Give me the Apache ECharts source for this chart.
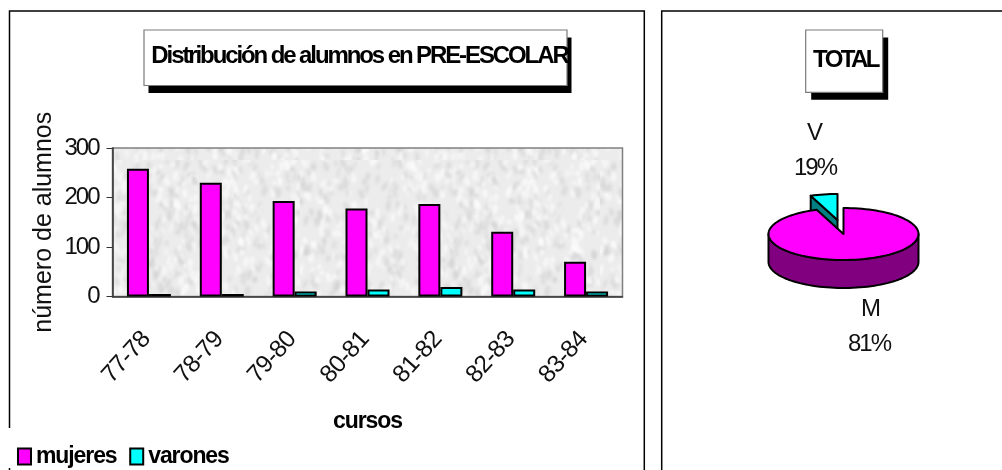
<!DOCTYPE html>
<html>
<head>
<meta charset="utf-8">
<style>html,body{margin:0;padding:0;background:#fff}#c{width:1002px;height:470px}</style>
<script src="https://cdn.jsdelivr.net/npm/echarts@6/dist/echarts.min.js"></script>
</head>
<body>
<div id="c"></div>
<script>
const categories = ['77-78','78-79','79-80','80-81','81-82','82-83','83-84'];
const mujeres = [258,230,193,178,187,131,70];
const varones = [5,5,10,14,19,14,10];
const yTicks = [0,100,200,300];
const pieNames = ['M','V'];
const pieValues = [1247,77];
const piePercentLabels = ['81%','19%'];

const FONT = '"Liberation Sans", Arial, sans-serif';

// Tight glyph spacing of the original, applied per text style
const plainFill = CanvasRenderingContext2D.prototype.fillText;
CanvasRenderingContext2D.prototype.fillText = function (t, x, y, m) {
  const f = this.font; let s = 0;
  if (t === 'TOTAL') s = -2.6;
  else if (/bold|700/.test(f) && /24px/.test(f)) s = -2.1;
  else if (/bold|700/.test(f)) s = -1.1;
  else if (/24px/.test(f)) s = -2;
  else if (/24\.5px/.test(f)) s = -0.7;
  this.letterSpacing = s + 'px';
  if (m === undefined) plainFill.call(this, t, x, y); else plainFill.call(this, t, x, y, m);
  this.letterSpacing = '0px';
};

const chart = echarts.init(document.getElementById('c'), null, {renderer:'canvas'});

// Paper texture for the plot background (decoration only)
function texture() {
  const W = 300, H = 160, cv = document.createElement('canvas');
  cv.width = W; cv.height = H;
  const g = cv.getContext('2d');
  g.fillStyle = '#ececec'; g.fillRect(0,0,W,H);
  const h = (a,b) => { const v = Math.sin(a*12.9898+b*78.233)*43758.5453; return v-Math.floor(v); };
  g.filter = 'blur(1.4px)';
  for (let i=0;i<900;i++){
    const x=h(i,1)*W, y=h(i,2)*H, shade=h(i,3);
    g.fillStyle = shade<0.45 ? 'rgba(208,208,208,0.6)' : 'rgba(252,252,252,0.7)';
    g.beginPath();
    g.ellipse(x,y,1+h(i,4)*2,2+h(i,5)*4,(h(i,6)-0.5)*0.9,0,Math.PI*2);
    g.fill();
  }
  return cv;
}

// Pie layout
const PC = {cx:843.5, cy:234, rx:75, ry:26, depth:28, explodeX:-6, explodeY:-14};
const pieTotal = pieValues.reduce((a,b)=>a+b,0);
const pieColors = [
  {top:'#ff00ff', side:'#800080'},
  {top:'#00ffff', side:'#008080'}
];
function rim(th, ox, oy){ return [PC.cx+ox+PC.rx*Math.sin(th), PC.cy+oy-PC.ry*Math.cos(th)]; }
function arcPts(a,b,ox,oy){
  const pts=[], n=Math.max(2,Math.ceil((b-a)/0.05));
  for(let i=0;i<=n;i++) pts.push(rim(a+(b-a)*i/n,ox,oy));
  return pts;
}
function renderPie(params, api){
  const i = params.dataIndex;
  let start = 0;
  for(let k=0;k<i;k++) start += pieValues[k];
  const a0 = start/pieTotal*Math.PI*2;
  const a1 = (start+api.value(0))/pieTotal*Math.PI*2;
  const exploded = i===1;
  const ox = exploded?PC.explodeX:0, oy = exploded?PC.explodeY:0;
  const apex=[PC.cx+ox,PC.cy+oy];
  const stroke={stroke:'#000',lineWidth:2,lineJoin:'round'};
  const kids=[];
  const s0=Math.max(a0,Math.PI/2), s1=Math.min(a1,Math.PI*1.5);
  if(s1>s0){
    const f=arcPts(s0,s1,ox,oy);
    const b=f.slice().reverse().map(p=>[p[0],p[1]+PC.depth]);
    kids.push({type:'polygon',shape:{points:f.concat(b)},style:{fill:pieColors[i].side,...stroke}});
  }
  if(exploded){
    const p=rim(a0,ox,oy);
    kids.push({type:'polygon',shape:{points:[apex,p,[p[0],p[1]+PC.depth],[apex[0],apex[1]+PC.depth]]},
      style:{fill:pieColors[i].side,...stroke}});
  }
  kids.push({type:'polygon',shape:{points:[apex].concat(arcPts(a0,a1,ox,oy))},style:{fill:pieColors[i].top,...stroke}});
  kids.forEach(k=>{k.z2=exploded?1:2;});
  return {type:'group',children:kids};
}

function panelLine(pts){ return {type:'polyline',shape:{points:pts},style:{stroke:'#000',lineWidth:1.5,fill:null},silent:true}; }
function box(x,y,w,h,sx,sy){
  return [
    {type:'rect',shape:{x:x+sx,y:y+sy,width:w,height:h},style:{fill:'#000'},silent:true},
    {type:'rect',shape:{x:x,y:y,width:w,height:h},style:{fill:'#fff',stroke:'#7a7a7a',lineWidth:1.2},silent:true}
  ];
}
function pieText(t,x,y){ return {type:'text',style:{text:t,x:x,y:y,fill:'#111',font:'24px '+FONT,textAlign:'center',textVerticalAlign:'middle'},silent:true,z:5}; }

chart.setOption({
  animation:false,
  backgroundColor:'#fff',
  title:[
    {text:'Distribución de alumnos en PRE-ESCOLAR',left:359.5,top:44,textAlign:'center',padding:0,
      textStyle:{fontFamily:FONT,fontSize:24,fontWeight:'bold',color:'#000'}},
    {text:'TOTAL',left:845.5,top:48,textAlign:'center',padding:0,
      textStyle:{fontFamily:FONT,fontSize:24,fontWeight:'bold',color:'#000'}}
  ],
  grid:{left:112.5,top:148,width:510,height:148.5,show:true,borderColor:'#808080',borderWidth:1.5,
    backgroundColor:{image:texture(),repeat:'repeat'}},
  legend:{left:17,top:445,padding:0,itemWidth:13,itemHeight:16,itemGap:5,icon:'rect',
    data:['mujeres','varones'],
    textStyle:{fontFamily:FONT,fontSize:23,fontWeight:'bold',color:'#000'}},
  xAxis:{type:'category',data:categories,name:'cursos',nameLocation:'middle',nameGap:114,
    nameTextStyle:{fontFamily:FONT,fontSize:23,fontWeight:'bold',color:'#000'},
    axisLine:{lineStyle:{color:'#333',width:1.5}},
    axisTick:{length:6,lineStyle:{color:'#333'}},
    axisLabel:{rotate:48,margin:36,padding:[0,4,0,0],interval:0,fontFamily:FONT,fontSize:24.5,color:'#111'}},
  yAxis:{type:'value',min:yTicks[0],max:yTicks[yTicks.length-1],interval:yTicks[1]-yTicks[0],
    name:'número de alumnos',nameLocation:'middle',nameGap:56,nameMoveOverlap:false,
    nameTextStyle:{fontFamily:FONT,fontSize:25,color:'#111'},
    splitLine:{show:false},
    axisLine:{show:true,lineStyle:{color:'#333',width:1.5}},
    axisTick:{show:true,length:6,lineStyle:{color:'#333'}},
    axisLabel:{margin:14,fontFamily:FONT,fontSize:24,color:'#111'}},
  series:[
    {name:'mujeres',type:'bar',data:mujeres,barWidth:22,barGap:0,
      itemStyle:{color:'#ff00ff',borderColor:'#000',borderWidth:2}},
    {name:'varones',type:'bar',data:varones,barWidth:22,barGap:0,
      itemStyle:{color:'#00ffff',borderColor:'#000',borderWidth:2}},
    {type:'custom',coordinateSystem:'none',renderItem:renderPie,
      data:pieValues.map((v,i)=>({name:pieNames[i],value:[v]})),z:3,silent:true}
  ],
  graphic:{elements:[
    panelLine([[9.5,428],[9.5,11],[644.3,11],[644.3,470]]),
    panelLine([[9.5,468],[9.5,470]]),
    panelLine([[661.7,470],[661.7,11],[1002,11]]),
    ...box(144,30,423,55.5,4.5,7.5),
    ...box(805.7,30,77,62.3,5.5,7.5),
    pieText(pieNames[1],814,133),
    pieText(piePercentLabels[1],815,168),
    pieText(pieNames[0],870,309),
    pieText(piePercentLabels[0],869,344)
  ]}
});
</script>
</body>
</html>
